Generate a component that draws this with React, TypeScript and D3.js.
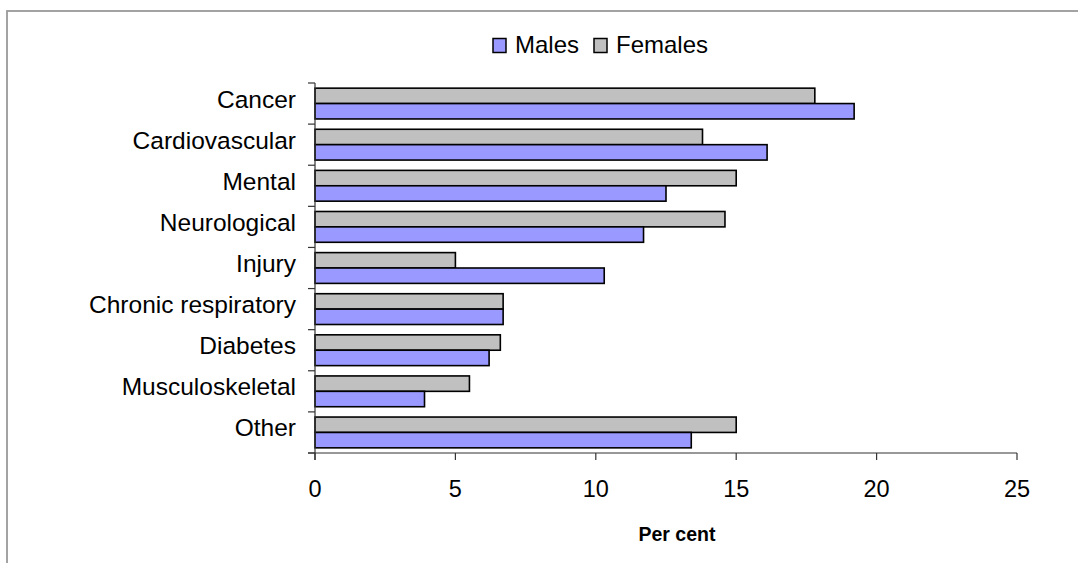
import React from "react";
import * as d3 from "d3";

const categories = [
  "Cancer",
  "Cardiovascular",
  "Mental",
  "Neurological",
  "Injury",
  "Chronic respiratory",
  "Diabetes",
  "Musculoskeletal",
  "Other",
];
const malesValues = [19.2, 16.1, 12.5, 11.7, 10.3, 6.7, 6.2, 3.9, 13.4];
const femalesValues = [17.8, 13.8, 15.0, 14.6, 5.0, 6.7, 6.6, 5.5, 15.0];
const xTicks = [0, 5, 10, 15, 20, 25];
const seriesNames = ["Males", "Females"];
const xTitle = "Per cent";

const W = 1078;
const H = 563;
const FONT = "'Liberation Sans', Arial, sans-serif";
const MALE_COLOR = "#9999FF";
const FEMALE_COLOR = "#C0C0C0";

export default function App() {
  const x = d3.scaleLinear().domain([0, 25]).range([315, 1017]);
  const y = d3.scaleBand().domain(categories).range([83, 453]);
  const inner = d3
    .scaleBand()
    .domain(["Females", "Males"])
    .range([0, y.bandwidth()])
    .paddingOuter(0.335)
    .paddingInner(0);

  return (
    <svg
      width={W}
      height={H}
      style={{ position: "absolute", left: 0, top: 0, background: "#fff" }}
      fontFamily={FONT}
    >
      <rect x={0} y={0} width={W} height={H} fill="#fff" />
      {/* frame */}
      <rect x={7} y={11} width={W + 20} height={H + 20} fill="none" stroke="#9a9a9a" strokeWidth={1.8} />

      {/* legend */}
      <g>
        <rect x={493} y={38.5} width={13} height={14} fill={MALE_COLOR} stroke="#000" strokeWidth={1.5} />
        <text x={515} y={53} fontSize={24} fill="#000">{seriesNames[0]}</text>
        <rect x={594} y={38.5} width={13} height={14} fill={FEMALE_COLOR} stroke="#000" strokeWidth={1.5} />
        <text x={616} y={53} fontSize={24} fill="#000">{seriesNames[1]}</text>
      </g>

      {/* bars */}
      {categories.map((c, i) => (
        <g key={c}>
          <rect
            x={x(0)}
            y={(y(c) as number) + (inner("Females") as number)}
            width={x(femalesValues[i]) - x(0)}
            height={inner.bandwidth()}
            fill={FEMALE_COLOR}
            stroke="#000"
            strokeWidth={1.6}
          />
          <rect
            x={x(0)}
            y={(y(c) as number) + (inner("Males") as number)}
            width={x(malesValues[i]) - x(0)}
            height={inner.bandwidth()}
            fill={MALE_COLOR}
            stroke="#000"
            strokeWidth={1.6}
          />
        </g>
      ))}

      {/* y axis */}
      <line x1={315} x2={315} y1={83} y2={460} stroke="#333" strokeWidth={1.2} />
      {[...categories.map((c) => y(c) as number), 453].map((v, i) => (
        <line key={"yt" + i} x1={308} x2={315} y1={v} y2={v} stroke="#333" strokeWidth={1.2} />
      ))}
      {categories.map((c) => (
        <text
          key={"yl" + c}
          x={296}
          y={(y(c) as number) + y.bandwidth() / 2 + 4}
          textAnchor="end"
          fontSize={24.5}
          fill="#000"
        >
          {c}
        </text>
      ))}

      {/* x axis */}
      <line x1={308} x2={1017} y1={453} y2={453} stroke="#333" strokeWidth={1.2} />
      {xTicks.map((t) => (
        <g key={"xt" + t}>
          <line x1={x(t)} x2={x(t)} y1={453} y2={460} stroke="#333" strokeWidth={1.2} />
          <text x={x(t)} y={497} textAnchor="middle" fontSize={23.5} fill="#000">
            {t}
          </text>
        </g>
      ))}
      <text x={677} y={541} textAnchor="middle" fontSize={19.5} fontWeight="bold" fill="#000">
        {xTitle}
      </text>
    </svg>
  );
}
